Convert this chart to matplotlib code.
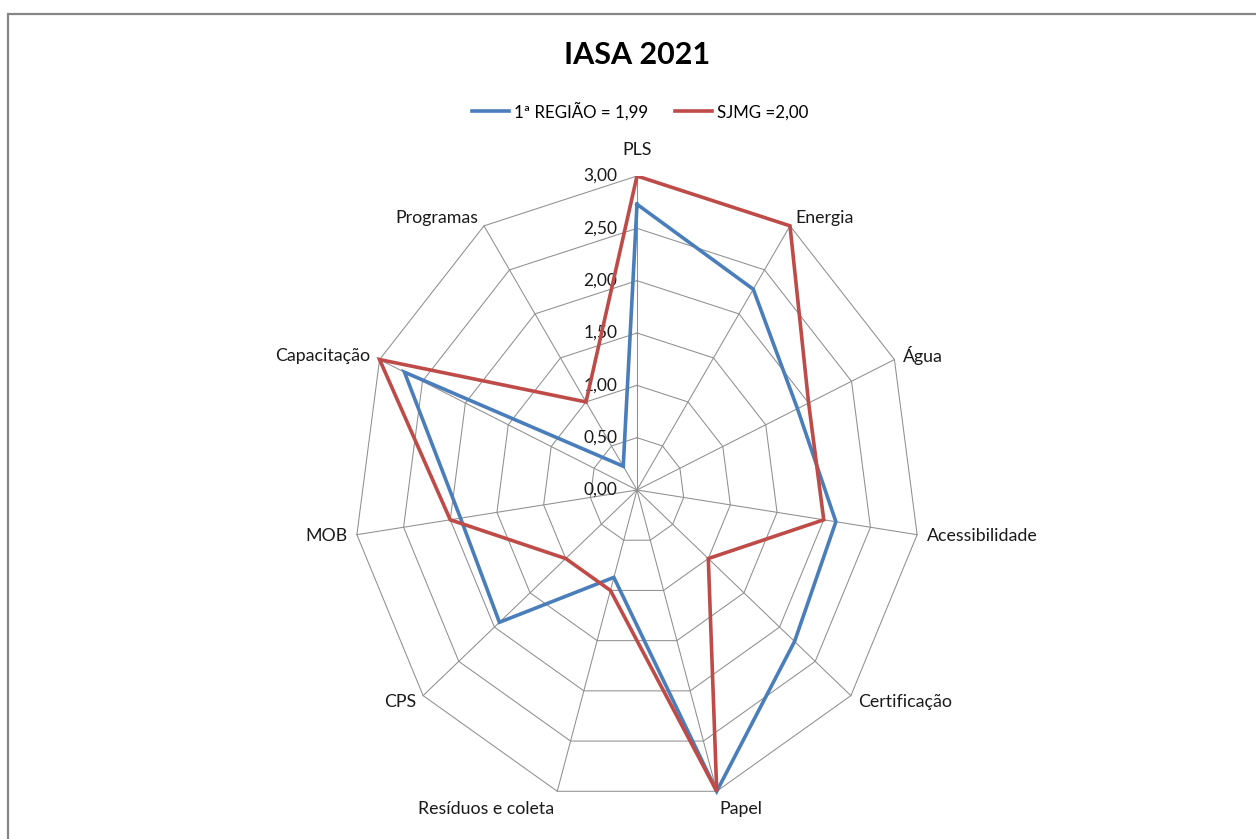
import numpy as np
import matplotlib
matplotlib.use('Agg')
import matplotlib.pyplot as plt
from matplotlib.patches import Rectangle

plt.rcParams['font.family'] = ['Lato', 'DejaVu Sans']

# Chart data
categories = ['PLS', 'Energia', 'Água', 'Acessibilidade', 'Certificação', 'Papel',
              'Resíduos e coleta', 'CPS', 'MOB', 'Capacitação', 'Programas']
regiao = [2.73, 2.28, 1.87, 2.13, 2.21, 3.00, 0.87, 1.93, 1.89, 2.71, 0.27]
sjmg = [3.00, 3.00, 2.00, 2.00, 1.00, 3.00, 1.00, 1.00, 2.00, 3.00, 1.00]
series_names = ['1ª REGIÃO = 1,99', 'SJMG =2,00']
levels = [0.0, 0.5, 1.0, 1.5, 2.0, 2.5, 3.0]
level_labels = ['0,00', '0,50', '1,00', '1,50', '2,00', '2,50', '3,00']

blue = '#4A7EBB'
red = '#BE4B48'
grid_color = '#8f8f8f'

W, H = 1256, 839
fig = plt.figure(figsize=(W / 100, H / 100), dpi=100)

# radar area: centre (637, 490), radius 283 px across, 314 px down
ax = fig.add_axes([354 / W, 35 / H, 566 / W, 628 / H])
ax.set_xlim(-3, 3)
ax.set_ylim(-3, 3)
ax.axis('off')

n = len(categories)
theta = np.pi / 2 - 2 * np.pi * np.arange(n) / n
cos_t, sin_t = np.cos(theta), np.sin(theta)

def closed(vals):
    v = np.asarray(vals, dtype=float)
    x = v * cos_t
    y = v * sin_t
    return np.append(x, x[0]), np.append(y, y[0])

# grid polygons and spokes
for lv in levels[1:]:
    gx, gy = closed([lv] * n)
    ax.plot(gx, gy, color=grid_color, lw=0.75, zorder=1)
for c, s in zip(cos_t, sin_t):
    ax.plot([0, levels[-1] * c], [0, levels[-1] * s], color=grid_color, lw=0.75, zorder=1)

# value labels along the PLS spoke
for lv, lbl in zip(levels, level_labels):
    ax.annotate(lbl, xy=(0, lv), xytext=(-14, 0), textcoords='offset points',
                ha='right', va='center', fontsize=12.5, color='#1a1a1a',
                annotation_clip=False)

# category labels
for cat, c, s in zip(categories, cos_t, sin_t):
    ha = 'left' if c > 0.2 else ('right' if c < -0.2 else 'center')
    if abs(s) > 0.9:
        va = 'bottom' if s > 0 else 'top'
    else:
        va = 'center'
    ax.annotate(cat, xy=(levels[-1] * c, levels[-1] * s),
                xytext=(7 * c, 7 * s + (6 if s > 0.99 else 0)), textcoords='offset points',
                ha=ha, va=va, fontsize=12.8, color='#1a1a1a', annotation_clip=False)

# data series
bx, by = closed(regiao)
rx, ry = closed(sjmg)
l1, = ax.plot(bx, by, color=blue, lw=2.6, zorder=3, solid_joinstyle='miter')
l2, = ax.plot(rx, ry, color=red, lw=2.6, zorder=4, solid_joinstyle='miter')

fig.text(637 / W, 1 - 55 / H, 'IASA 2021', ha='center', va='center',
         fontsize=22, fontweight='bold', color='black')

fig.legend([l1, l2], series_names, loc='center', bbox_to_anchor=(640 / W, 1 - 111 / H),
           ncol=2, frameon=False, fontsize=12.2, handlelength=2.2, handletextpad=0.28,
           columnspacing=1.6)

# chart border
fig.add_artist(Rectangle((8 / W, -0.1), 1.2, (H - 14) / H + 0.1, transform=fig.transFigure,
                         fill=False, edgecolor='#868686', lw=1.6))

fig.savefig('out.png', dpi=100)
